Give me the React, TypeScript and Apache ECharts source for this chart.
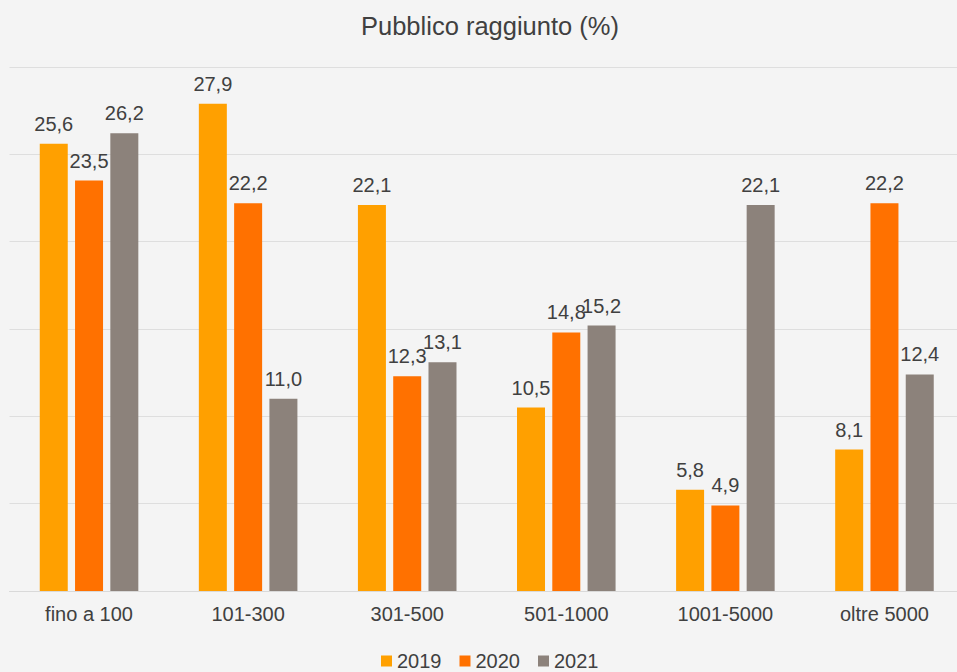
import React, { useEffect, useRef } from "react";
import * as echarts from "echarts";

const categories = ["fino a 100", "101-300", "301-500", "501-1000", "1001-5000", "oltre 5000"];
const seriesNames = ["2019", "2020", "2021"];
const values2019 = [25.6, 27.9, 22.1, 10.5, 5.8, 8.1];
const values2020 = [23.5, 22.2, 12.3, 14.8, 4.9, 22.2];
const values2021 = [26.2, 11.0, 13.1, 15.2, 22.1, 12.4];
const colors = ["#FFA000", "#FF7100", "#8C827B"];
const titleText = "Pubblico raggiunto (%)";

const FONT = "Arial, 'Liberation Sans', sans-serif";
const TEXT = "#404040";

export default function App() {
  const ref = useRef<HTMLDivElement>(null);
  useEffect(() => {
    if (!ref.current) return;
    const chart = echarts.init(ref.current, null, { renderer: "svg" });
    const data = [values2019, values2020, values2021];
    chart.setOption({
      animation: false,
      backgroundColor: "#F4F4F4",
      title: {
        text: titleText,
        left: 356,
        top: 8,
        textStyle: { fontFamily: FONT, fontSize: 25.5, fontWeight: "normal", color: TEXT },
      },
      legend: {
        data: seriesNames,
        left: 376,
        top: 646,
        icon: "rect",
        itemWidth: 11,
        itemHeight: 11,
        itemGap: 18,
        textStyle: { fontFamily: FONT, fontSize: 20, color: TEXT },
      },
      grid: { left: 9.5, width: 954.5, top: 67, bottom: 81, containLabel: false },
      xAxis: {
        type: "category",
        data: categories,
        axisTick: { show: false },
        axisLine: { lineStyle: { color: "#D9D9D9", width: 1 } },
        axisLabel: { fontFamily: FONT, fontSize: 20, color: TEXT, margin: 13 },
      },
      yAxis: {
        type: "value",
        min: 0,
        max: 30,
        interval: 5,
        axisLabel: { show: false },
        axisLine: { show: false },
        axisTick: { show: false },
        splitLine: { lineStyle: { color: "#DEDEDE", width: 1 } },
      },
      series: seriesNames.map((name, i) => ({
        name,
        type: "bar",
        data: data[i],
        barWidth: 28,
        barGap: "26%",
        itemStyle: { color: colors[i] },
        label: {
          show: true,
          position: "top",
          distance: 10,
          fontFamily: FONT,
          fontSize: 20,
          color: TEXT,
          formatter: (p: any) => Number(p.value).toFixed(1).replace(".", ","),
        },
      })),
    });
    return () => chart.dispose();
  }, []);
  return (
    <div style={{ width: 957, height: 672, position: "absolute", left: 0, top: 0, overflow: "hidden" }}>
      <div ref={ref} style={{ width: 966, height: 672 }} />
    </div>
  );
}
